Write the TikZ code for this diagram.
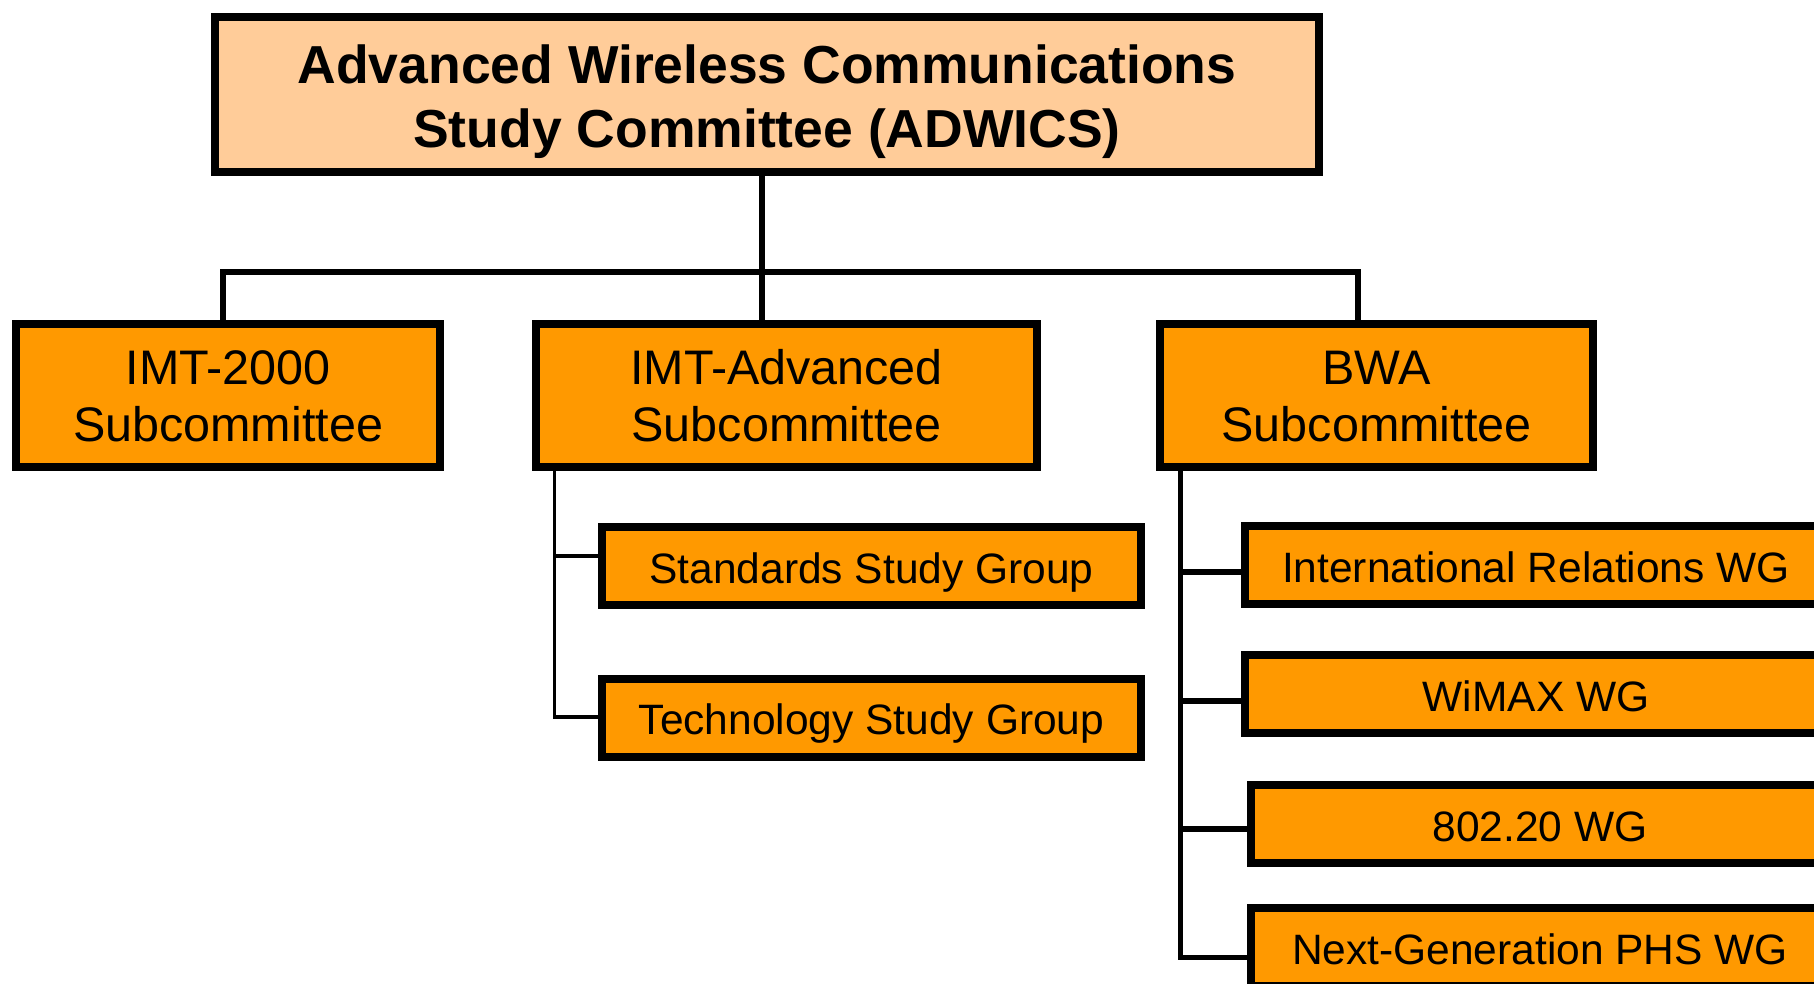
\documentclass[tikz,border=0pt]{standalone}
\usepackage{fontspec}
\setmainfont{Liberation Sans}
\definecolor{peach}{HTML}{FFCC99}
\definecolor{amber}{HTML}{FF9900}
\begin{document}
\begin{tikzpicture}[x=1pt,y=-1pt,
  unitbox/.style={draw=black, line width=8pt, fill=amber, align=center,
    inner sep=0pt, text=black, text depth=0pt},
  headbox/.style={unitbox, fill=peach, text height=105pt,
    font=\fontsize{53.5}{64}\selectfont\bfseries},
  subbox/.style={unitbox, minimum height=143pt, text height=92.4pt,
    font=\fontsize{48.5}{57}\selectfont},
  groupbox/.style={unitbox, minimum height=78pt, text height=34pt,
    font=\fontsize{42.5}{50}\selectfont},
  link/.style={draw=black, line width=5.5pt},
  thinlink/.style={draw=black, line width=3.5pt}]
\useasboundingbox (0,0) rectangle (1814,983);

% committee at the top
\node[headbox, minimum width=1104pt, minimum height=155pt] (top) at (767,94.5)
  {Advanced Wireless Communications\\Study Committee (ADWICS)};

% subcommittees
\node[subbox, minimum width=424pt] (imt2000) at (228,395.5) {IMT-2000\\Subcommittee};
\node[subbox, minimum width=501pt] (imtadv) at (786.5,395.5) {IMT-Advanced\\Subcommittee};
\node[subbox, minimum width=433pt] (bwa) at (1376.5,395.5) {BWA\\Subcommittee};

% study groups under IMT-Advanced
\node[groupbox, minimum width=539pt] (std) at (871.5,566.3) {Standards Study Group};
\node[groupbox, minimum width=539pt] (tech) at (871.5,717.8) {Technology Study Group};

% working groups under BWA
\node[groupbox, minimum width=582pt] (irwg) at (1536,565) {International Relations WG};
\node[groupbox, minimum width=582pt] (wimax) at (1536,694) {WiMAX WG};
\node[groupbox, minimum width=578pt] (wg80220) at (1540,824) {802.20 WG};
\node[groupbox, minimum width=578pt] (phs) at (1540,947) {Next-Generation PHS WG};

% bus joining the committee to its subcommittees
\coordinate (busL) at (223,272);
\coordinate (busM) at (762,272);
\coordinate (busR) at (1358,272);
\draw[link] (top.south -| busM) -- (imtadv.north -| busM);
\draw[link, line join=miter] (imt2000.north -| busL) -- (busL) -- (busR) -- (bwa.north -| busR);

% IMT-Advanced branches
\coordinate (a1) at (554.5,556);
\coordinate (a2) at (554.5,717);
\draw[thinlink, line join=miter] (imtadv.south -| a1) -- (a2) -- (a2 -| tech.west);
\draw[thinlink] (a1) -- (a1 -| std.west);

% BWA branches
\coordinate (b1) at (1180.5,572);
\coordinate (b2) at (1180.5,701);
\coordinate (b3) at (1180.5,829);
\coordinate (b4) at (1180.5,957.5);
\draw[link, line join=miter] (bwa.south -| b1) -- (b4) -- (b4 -| phs.west);
\draw[link] (b1) -- (b1 -| irwg.west);
\draw[link] (b2) -- (b2 -| wimax.west);
\draw[link] (b3) -- (b3 -| wg80220.west);
\end{tikzpicture}
\end{document}
